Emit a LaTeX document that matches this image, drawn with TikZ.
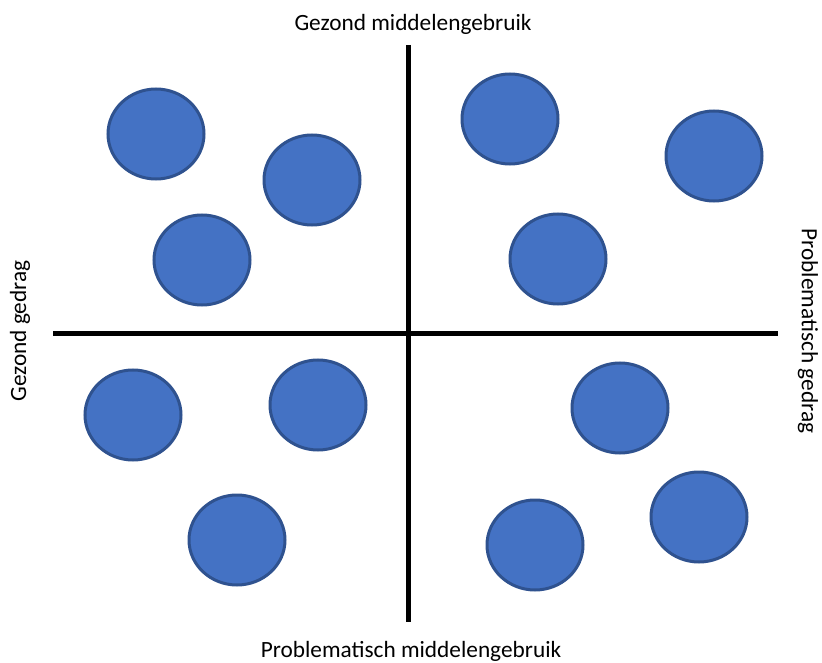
\documentclass[tikz,border=0pt]{standalone}
\usepackage{fontspec}
\setmainfont{Carlito}
\usepackage{xcolor}
\usepackage{tikz}
\usetikzlibrary{positioning}

\definecolor{blobfill}{HTML}{4472C4}
\definecolor{blobline}{HTML}{2F528F}

\begin{document}
\begin{tikzpicture}[x=1pt,y=-1pt,every node/.style={font=\fontsize{23.3}{26}\selectfont}]
  \useasboundingbox (0,0) rectangle (822,663);
  \tikzset{blob/.style={fill=blobfill,draw=blobline,line width=3pt}}
  % axes
  \coordinate (top) at (408,45);
  \coordinate (bot) at (408,622);
  \coordinate (lft) at (53,333);
  \coordinate (rgt) at (778,333);
  \draw[line width=5pt] (top) -- (bot);
  \draw[line width=5pt] (lft) -- (rgt);
  % labels
  \node (gm) at (413,24) {Gezond middelengebruik};
  \node (pm) at (411,651) {Problematisch middelengebruik};
  \node[rotate=90] (gg) at (20,331) {Gezond gedrag};
  \node[rotate=-90] (pg) at (808,331) {Problematisch gedrag};
  % circles
  \foreach \cx/\cy in {156/134,312/180,202/260,510/119,714/156,558/259,
                       133/415,318/405,237/540,620/408,699/517,535/545}
    {\draw[blob] (\cx,\cy) ellipse (48 and 45);}
\end{tikzpicture}
\end{document}
